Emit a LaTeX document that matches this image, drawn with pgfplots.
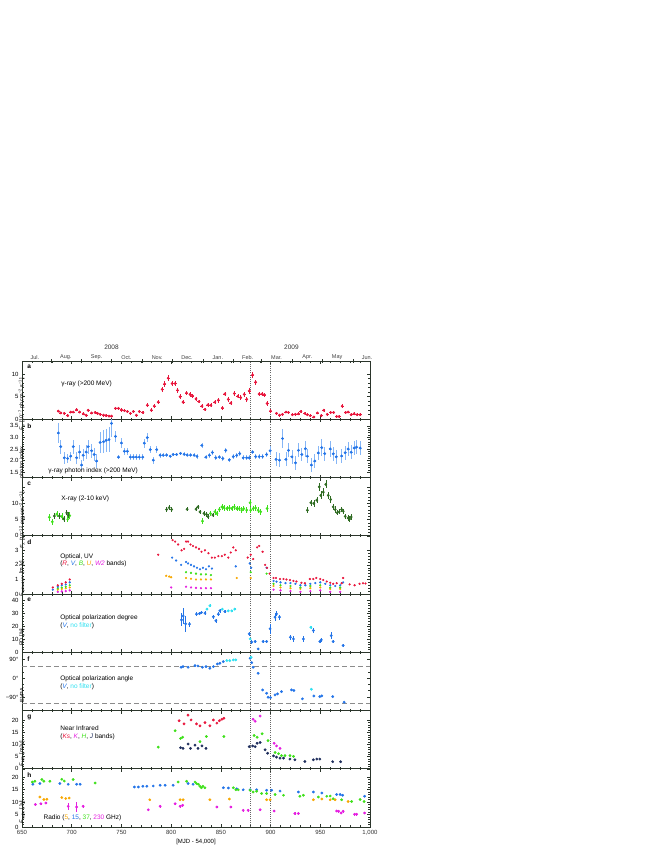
\documentclass[border=0pt]{standalone}
\usepackage{fontspec}
\setmainfont{Liberation Sans}
\usepackage{pgfplots}
\usepackage{pgfplotstable}
\pgfplotsset{compat=1.18}

\definecolor{cred}{HTML}{E8173D}
\definecolor{cblue}{HTML}{2374E8}
\definecolor{cblueerr}{HTML}{86B6F6}
\definecolor{clgreen}{HTML}{3EE01A}
\definecolor{cdgreen}{HTML}{2F6B22}
\definecolor{corange}{HTML}{F7A700}
\definecolor{cmag}{HTML}{E51FE0}
\definecolor{ccyan}{HTML}{2EE0F0}
\definecolor{cnavy}{HTML}{1E2D5C}
\definecolor{frame}{HTML}{2B352B}

\pgfplotsset{
  panel/.style={
    scale only axis, width=348pt, height=58.25pt,
    xmin=650, xmax=1000,
    xtick={650,700,...,1000}, minor x tick num=4, xticklabels={},
    extra x ticks={880,900}, extra x tick labels={},
    extra x tick style={grid=major, major tick length=0pt,
      major grid style={line width=0.55pt, black!60, dash pattern=on 0.6pt off 1.5pt}},
    tick align=inside, major tick length=3pt, minor tick length=1.6pt,
    axis line style={frame, line width=0.9pt},
    every tick/.style={frame, line width=0.5pt},
    tick label style={font=\fontsize{6}{6}\selectfont},
    font=\fontsize{6.5}{7.5}\selectfont,
    /pgf/number format/assume math mode=true,
    every axis y label/.style={at={(rel axis cs:0,0.5)}, rotate=90,
      anchor=center, xshift=-14pt, font=\fontsize{5.5}{6}\selectfont},
    error bars/error mark=none,
    error bars/error bar style={line width=0.5pt},
  },
  pts/.style={only marks, mark=*, mark size=1.2pt},
  opt/.style={only marks, mark=*, mark size=0.9pt},
}

% gamma-ray flux: x y ex ey
\pgfplotstableread{
x y ex ey
686.5 1.8 1.5 0.3
689 1.4 1.5 0.3
692.5 1.3 1.5 0.3
696 0.8 1.5 0.3
699 1.6 1.5 0.3
701.5 1.6 1.5 0.3
705 2.1 1.5 0.3
708 1.6 1.5 0.3
711.5 1.2 1.5 0.3
714.5 0.9 1.5 0.3
716.5 2.0 1.5 0.3
720 1.4 1.5 0.3
723.5 1.5 1.5 0.3
726 1.3 1.5 0.3
728.5 1.1 1.5 0.3
732 0.9 1.5 0.3
734.5 0.8 1.5 0.3
737.5 0.7 1.5 0.3
740 0.7 1.5 0.3
744 2.4 1.5 0.4
747 2.4 1.5 0.4
750 2.1 1.5 0.4
753 1.9 1.5 0.3
756 1.7 1.5 0.3
759 1.3 1.5 0.3
762 1.7 1.5 0.3
765 0.9 1.5 0.3
768 1.7 1.5 0.3
771.5 1.5 1.5 0.3
776 3.1 1.5 0.4
780 2.0 1.5 0.4
783 2.9 1.5 0.4
787 3.8 1.5 0.5
791 6.6 1.5 0.6
793.5 7.8 1.5 0.6
797 9.1 1.5 0.7
801 7.9 1.5 0.6
804 7.9 1.5 0.6
806.5 6.4 1.5 0.5
809 5.0 1.5 0.5
812 3.8 1.5 0.5
815.5 5.8 1.5 0.5
819 5.5 1.5 0.5
821.5 5.2 1.5 0.5
825 4.5 1.5 0.5
828 3.9 1.5 0.4
831 2.9 1.5 0.4
834 2.2 1.5 0.4
837 3.2 1.5 0.4
840 3.1 1.5 0.4
844 3.8 1.5 0.5
847.5 4.2 1.5 0.5
851.5 2.5 1.5 0.4
854 5.6 1.5 0.5
857.5 4.4 1.5 0.5
860 3.6 1.5 0.5
863.5 5.7 1.5 0.5
867 5.1 1.5 0.5
870 4.8 1.5 0.5
873.5 5.5 1.5 0.5
876 4.4 1.5 0.5
878.5 6.3 1.5 0.6
882 9.8 1.5 0.7
885 8.2 1.5 0.6
888.5 5.6 1.5 0.5
891.5 5.6 1.5 0.5
894 5.4 1.5 0.5
896.5 3.5 1.5 0.5
900 1.8 1.5 0.4
906 1.3 1.5 0.3
909 0.9 1.5 0.3
912 1.1 1.5 0.3
915.5 1.6 1.5 0.3
918 1.5 1.5 0.3
922 1.0 1.5 0.3
925 1.1 1.5 0.3
928 1.2 1.5 0.3
930.5 1.7 1.5 0.3
934.5 1.3 1.5 0.3
937 1.0 1.5 0.3
940 0.8 1.5 0.3
943.5 0.5 1.5 0.3
947 1.4 1.5 0.3
951 0.8 1.5 0.3
953.5 2.0 1.5 0.3
957 1.1 1.5 0.3
960.5 1.5 1.5 0.3
963.5 1.5 1.5 0.3
966.5 0.6 1.5 0.3
969 0.6 1.5 0.3
972 2.9 1.5 0.4
975.5 1.5 1.5 0.3
978 1.6 1.5 0.3
981 1.0 1.5 0.3
984 1.2 1.5 0.3
987 1.0 1.5 0.3
990 1.0 1.5 0.3
}\gamflux

% gamma-ray photon index
\pgfplotstableread{
x y ex ey
686.5 3.19 1.5 0.45
689 2.6 1.5 0.3
692.5 2.12 1.5 0.25
696 2.09 1.5 0.2
699 2.19 1.5 0.2
701.5 2.6 1.5 0.3
705 2.12 1.5 0.25
708 2.37 1.5 0.3
710 1.81 1.5 0.2
711.5 2.23 1.5 0.25
714.5 2.37 1.5 0.3
716.5 2.6 1.5 0.3
720 2.42 1.5 0.3
722.5 2.26 1.5 0.3
725 1.98 1.5 0.3
728.5 2.78 1.5 0.45
732 2.81 1.5 0.5
734.5 2.87 1.5 0.5
737.5 2.9 1.5 0.55
740 3.6 1.5 0.6
744 3.04 1.5 0.25
747 2.15 1.5 0.1
750 2.76 1.5 0.2
753 2.4 1.5 0.15
756 2.4 1.5 0.15
759 2.15 1.5 0.12
762 2.15 1.5 0.12
765 2.15 1.5 0.12
768 2.15 1.5 0.12
771.5 2.15 1.5 0.12
773 2.75 1.5 0.2
776 2.99 1.5 0.2
779 2.47 1.5 0.15
782 2.02 1.5 0.15
785.5 2.47 1.5 0.15
789 2.23 1.5 0.1
792 2.23 1.5 0.08
795.5 2.24 1.5 0.07
799 2.19 1.5 0.07
802 2.26 1.5 0.07
805.5 2.26 1.5 0.07
809.5 2.31 1.5 0.08
813 2.27 1.5 0.08
816 2.24 1.5 0.08
819.5 2.24 1.5 0.08
823 2.23 1.5 0.08
826 2.18 1.5 0.1
831 2.65 1.5 0.12
835 2.15 1.5 0.1
838.5 2.23 1.5 0.1
841.5 2.35 1.5 0.1
845 2.12 1.5 0.1
848.5 2.15 1.5 0.1
852 2.09 1.5 0.1
855 2.44 1.5 0.12
858.5 2.03 1.5 0.1
862.5 2.17 1.5 0.1
866 2.22 1.5 0.1
869 2.3 1.5 0.1
872.5 2.12 1.5 0.1
876 2.12 1.5 0.1
878.5 2.12 1.5 0.1
882 2.37 1.5 0.1
885 2.17 1.5 0.1
888.5 2.17 1.5 0.1
892 2.17 1.5 0.1
896 2.26 1.5 0.12
899.5 2.42 1.5 0.2
905.5 2.05 1.5 0.3
909 2.02 1.5 0.3
912 2.95 1.5 0.4
915.5 2.05 1.5 0.3
918 2.44 1.5 0.3
921.5 2.16 1.5 0.3
925 1.9 1.5 0.3
928 2.44 1.5 0.3
931.5 2.26 1.5 0.3
935 2.51 1.5 0.35
937 2.19 1.5 0.3
941 1.81 1.5 0.3
944.5 1.98 1.5 0.3
948 2.33 1.5 0.3
951.5 2.56 1.5 0.35
954.5 2.3 1.5 0.3
960 2.5 1.5 0.35
963 2.29 1.5 0.3
966 2.16 1.5 0.3
971.5 2.2 1.5 0.3
975 2.34 1.5 0.3
978 2.5 1.5 0.3
981 2.36 1.5 0.3
984 2.54 1.5 0.3
986.5 2.58 1.5 0.3
990 2.54 1.5 0.3
}\gamindex

% X-ray, light green
\pgfplotstableread{
x y ey
677.5 5.7 1.0
680.5 4.3 1.0
685 6.7 1.0
690 5.9 1.0
696 5.1 1.0
698 6.2 1.0
831.5 4.5 0.9
839.5 6.9 0.9
844 7.4 0.9
846 6.9 0.9
848.5 8.1 0.9
851 8.9 0.9
853 8.7 0.9
856 8.4 0.9
858.5 8.6 0.9
861 8.4 0.9
863.5 8.9 0.9
866 8.4 0.9
868.5 8.4 0.9
871 7.9 0.9
873 8.4 0.9
876 7.9 0.9
879.5 10.2 0.9
880 7.9 0.9
882.5 8.4 0.9
885 8.6 0.9
887.5 7.9 0.9
890 7.4 0.9
896.5 8.4 1.2
}\xlg
% X-ray, dark green
\pgfplotstableread{
x y ey
682.5 6.1 0.8
687.5 6.1 0.8
692 5.2 0.8
695 7.1 0.8
696.5 6.4 0.8
795.5 8.1 0.7
798 8.7 0.7
800.5 8.1 0.7
816 8.2 0.7
825 8.2 0.7
827 8.9 0.7
829 7.4 0.7
833 6.9 0.7
835.5 6.6 0.7
837 5.9 0.7
842 6.4 0.7
937 7.9 1.0
940.5 10.2 1.0
943.5 10.0 1.0
946.5 11.0 1.0
949 15.1 1.2
950.5 12.5 1.2
953 13.5 1.2
955.5 15.9 1.2
958 12.5 1.0
960.5 11.2 1.0
963 8.9 1.0
965 8.1 1.0
967 7.1 0.8
969 7.4 0.8
971.5 8.1 0.8
973 7.6 0.8
975 6.0 0.8
978 5.5 0.8
979.5 5.2 0.8
981 5.8 0.8
}\xdg

% optical/UV
\pgfplotstableread{
x y
681 0.45
686 0.6
690 0.7
694 0.8
698 1.0
787 2.7
801.5 3.7
804 3.6
807 3.4
810.5 3.0
813 3.1
815 3.6
817 3.6
819.5 3.4
822 3.3
825 3.2
828 3.1
830.5 2.9
834 3.0
837.5 2.8
841 2.5
844 2.5
847.5 2.6
851 2.6
854 2.7
857.5 2.5
860 2.85
862.5 3.2
865 3.0
877 2.5
880 2.7
882.5 2.4
886.5 3.2
888.5 3.3
892 2.9
894.5 2.0
896.5 1.8
899 1.4
903 1.1
905.5 1.1
909.5 1.03
913 1.03
916 1.0
919.5 0.96
923 0.9
926 0.86
931 0.77
934.5 0.74
939.5 1.03
943 1.03
946 1.1
950 1.03
953 0.96
956.5 0.86
960 0.77
963 0.7
966.5 0.74
971.5 0.74
973 1.1
979.5 0.66
984.5 0.6
989.5 0.7
993 0.74
995.5 0.72
}\optR
\pgfplotstableread{
x y
681 0.3
686 0.5
690 0.6
694 0.65
698 0.8
801 2.5
805 2.3
810 2.0
815 2.2
817 2.1
820 2.0
823 1.9
826 1.8
829 1.7
832 1.8
835 1.7
838 1.9
841 1.75
865 1.9
879 2.1
880.5 1.8
896 1.8
903 0.9
906 0.85
910 0.8
915 0.75
920 0.75
925 0.7
930 0.6
935 0.6
940 0.7
945 0.75
950 0.8
955 0.7
960 0.6
965 0.55
970 0.6
973 0.8
}\optV
\pgfplotstableread{
x y
686 0.4
690 0.45
694 0.5
698 0.6
815 1.5
820 1.45
825 1.4
830 1.35
835 1.35
840 1.3
880 1.5
896 1.4
903 0.7
910 0.6
920 0.55
930 0.45
940 0.55
950 0.6
960 0.45
970 0.45
}\optB
\pgfplotstableread{
x y
686 0.3
690 0.35
694 0.4
698 0.45
795 1.25
798 1.2
800 1.15
815 1.1
820 1.05
825 1.0
830 1.0
835 1.0
840 1.0
866 1.1
880 1.1
903 0.55
910 0.45
920 0.4
930 0.35
940 0.4
950 0.45
960 0.35
970 0.35
}\optU
\pgfplotstableread{
x y
686 0.15
690 0.18
694 0.2
698 0.25
800 0.45
815 0.5
820 0.45
825 0.42
830 0.4
835 0.4
840 0.4
903 0.3
910 0.25
920 0.2
930 0.15
940 0.2
950 0.25
960 0.15
970 0.15
}\optW

% polarization degree
\pgfplotstableread{
x y ey
810.5 25 5
812 28 6
814.5 22 6
818.5 21.7 2
825.5 29.4 1.5
828.5 29.9 1.5
830.5 30.7 1.5
834 30.2 1.5
842.5 27.4 1.5
845 24.3 1.5
847.5 29.4 1.5
849 32 1.5
854 31.5 1.5
878.5 14.2 1.5
881 7.8 1.5
884.5 8.3 1.5
887.5 2.6 1
892.5 8.3 1.5
896 8.3 1.5
899.5 18.1 4
904.5 27.1 3
906 29.7 2
909 27.1 2
920 11.6 2
923 10.3 2
933 10.3 2.5
943 16.8 2
949.5 8.3 1.5
951 9.6 1.5
961 12.9 3
963 8.3 1.5
973 5.2 1
}\pdV
\pgfplotstableread{
x y ey
836 33.3 1
839 35.9 1
851.5 33.3 1
857.5 32 1
861 32 1
864 33.3 1
879.5 10.3 1
940.5 19.3 1
}\pdC

% polarization angle
\pgfplotstableread{
x y
810 53
812 56
817 53
824 61
827 59
831.5 53
835 56
839 48
842.5 56
846.5 69
849 72
852.5 80
879.5 96
881 75
882.5 53
887.5 24
892 -56
896 -72
897.5 -91
900 -93
904.5 -80
907 -75
911 -64
921 -56
923.5 -59
932 -99
943.5 -85
949.5 -88
951.5 -85
962.5 -88
974 -115
}\paV
\pgfplotstableread{
x y
856 85
859 85
862.5 88
865 88
880.5 101
941 -53
}\paC

% near infrared
\pgfplotstableread{
x y
808 19.8
813 18.5
817 22.1
820 20.1
825.5 18.5
829 17.7
834 19.0
839 17.7
842.5 20.1
846 18.8
848.5 19.8
851 20.4
853 20.8
}\nirKs
\pgfplotstableread{
x y
882.5 20.4
884.5 19.6
889.5 21.7
903.5 10.5
906 9.4
909.5 8.4
}\nirK
\pgfplotstableread{
x y
787 8.9
804 15.7
809.5 12.5
811.5 13.0
829 11.2
835.5 13.3
853 13.3
883.5 13.7
886.5 13.0
891.5 14.4
897.5 11.6
904.5 6.7
908 6.2
911 5.4
914.5 5.4
919.5 5.4
923 5.1
}\nirH
\pgfplotstableread{
x y
809.5 8.7
812 8.4
817 10.2
819.5 8.4
824 9.7
827 8.4
831 9.4
835 8.4
878.5 9.1
882 9.4
884.5 9.1
886.5 10.5
889.5 10.8
894.5 7.8
897 6.4
903 5.3
906 4.8
909.5 4.4
913 4.4
919.5 4.0
924.5 3.7
934.5 3.0
943 3.7
946.5 4.0
949.5 4.0
962.5 2.9
970.5 2.9
}\nirJ

% radio
\pgfplotstableread{
x y
668 12.0
672 11.0
675 11.1
690 11.8
694 11.4
697.5 11.6
778.5 10.9
809 10.9
812 10.9
839 10.9
858.5 11.2
896 10.9
899.5 10.9
943 10.9
951.5 11.2
960 10.9
965 10.9
978 10.2
}\radA
\pgfplotstableread{
x y
661 17.1
668 17.4
688 17.4
696.5 17.1
705 17.1
708.5 17.1
763 16.0
767 16.0
771.5 16.3
775.5 16.3
782 16.4
789 16.7
794 16.7
802 16.7
817 17.4
822 17.1
852.5 15.7
857.5 15.6
866 15.3
872.5 14.9
879.5 14.9
886 14.9
896 14.7
901 14.7
909.5 14.4
928 14.0
943 14.0
951.5 13.6
966.5 13.0
970 13.0
972.5 12.7
994.5 12.3
}\radB
\pgfplotstableread{
x y
660.5 18.0
663 18.3
670 19.0
672 18.3
678 18.3
690 19.1
692.5 18.4
701.5 19.0
723.5 17.6
807 18.0
815.5 18.3
824 18.0
825.5 17.4
827.5 17.1
829 16.3
830.5 15.7
832 16.3
834 15.7
862.5 15.7
865 14.9
867.5 14.9
879.5 14.7
882.5 14.0
886 14.3
891 13.4
896 13.4
904.5 13.0
913 12.7
929.5 12.3
933 12.7
948 12.0
956.5 12.3
960 12.4
963 11.3
971.5 10.9
981.5 10.2
990 11.0
994 10.2
}\radC
\pgfplotstableread{
x y ey
663.5 9.0 0.5
669 9.3 0.5
674 9.6 0.5
696.5 8.3 1.5
705 8.0 2.0
711.5 8.3 0.5
777 6.9 0.5
789 8.3 0.5
804 9.3 0.5
809 8.3 0.5
811.5 8.7 0.5
846 8.0 0.5
860 8.0 0.5
872.5 6.7 0.5
877.5 6.7 0.5
889.5 6.9 0.5
903.5 6.4 0.5
924.5 5.4 0.5
928 5.4 0.5
966.5 6.4 0.5
968.5 6.3 0.5
971 5.6 0.5
973 6.3 0.5
984.5 5.1 0.5
986.5 5.1 0.5
994.5 5.6 0.5
}\radD

\begin{document}
\begin{tikzpicture}
\path[use as bounding box] (0pt,0pt) rectangle (654pt,-846pt);

% month axis on top
\begin{axis}[scale only axis, width=348pt, height=58.25pt,
  at={(22pt,-361pt)}, anchor=north west, clip=false,
  xmin=650, xmax=1000, ymin=0, ymax=1,
  axis x line*=top, axis y line=none,
  axis line style={frame, line width=0.9pt},
  xtick={679,710,740,771,801,832,863,891,922,952,983}, xticklabels={},
  tick align=center, major tick length=3.5pt,
  every tick/.style={frame, line width=0.6pt},
  extra x ticks={663,694,725,755,786,816,847,877,906,937,967,997},
  extra x tick labels={Jul.,Aug.,Sep.,Oct.,Nov.,Dec.,Jan.,Feb.,Mar.,Apr.,May,Jun.},
  extra x tick style={major tick length=0pt},
  tick label style={font=\fontsize{5.5}{6}\selectfont, text=black!75, inner sep=1pt},
]
\node[font=\fontsize{6.5}{7}\selectfont, anchor=south, text=black!80]
  at ({axis cs:740,0}|-{rel axis cs:0,1}) [yshift=7.5pt] {2008};
\node[font=\fontsize{6.5}{7}\selectfont, anchor=south, text=black!80]
  at ({axis cs:921,0}|-{rel axis cs:0,1}) [yshift=7.5pt] {2009};
\end{axis}

% a: gamma-ray flux
\begin{axis}[panel, at={(22pt,-361pt)}, anchor=north west,
  ymin=0, ymax=12.9, ytick={0,5,10}, minor y tick num=4,
  ylabel={{\itshape F}\textsubscript{γ} [10\textsuperscript{−7} ph cm\textsuperscript{−2} s\textsuperscript{−1}]}]
\addplot[pts, color=cred,
  error bars/.cd, x dir=both, x explicit, y dir=both, y explicit]
  table[x=x, y=y, x error=ex, y error=ey] {\gamflux};
\node[anchor=north west, font=\bfseries\fontsize{6.5}{7}\selectfont] at (rel axis cs:0.005,0.99) {a};
\node[anchor=west] at (rel axis cs:0.103,0.6) {γ-ray (>200 MeV)};
\end{axis}

% b: photon index
\begin{axis}[panel, at={(22pt,-419.25pt)}, anchor=north west,
  ymin=1.27, ymax=3.78, ytick={1.5,2,2.5,3,3.5},
  yticklabels={1.5,2.0,2.5,3.0,3.5}, minor y tick num=4,
  ylabel={photon index}]
\addplot[pts, color=cblue,
  error bars/.cd, x dir=both, x explicit, y dir=both, y explicit,
  error bar style={cblueerr, line width=0.8pt}]
  table[x=x, y=y, x error=ex, y error=ey] {\gamindex};
\node[anchor=north west, font=\bfseries\fontsize{6.5}{7}\selectfont] at (rel axis cs:0.005,0.99) {b};
\node[anchor=west] at (rel axis cs:0.066,0.11) {γ-ray photon index (>200 MeV)};
\end{axis}

% c: X-ray
\begin{axis}[panel, at={(22pt,-477.5pt)}, anchor=north west,
  ymin=0, ymax=18, ytick={0,5,10,15}, yticklabels={0,5,10,}, minor y tick num=4,
  ylabel={{\itshape F}\textsubscript{X} [10\textsuperscript{−12} erg cm\textsuperscript{−2} s\textsuperscript{−1}]}]
\addplot[pts, color=clgreen,
  error bars/.cd, y dir=both, y explicit]
  table[x=x, y=y, y error=ey] {\xlg};
\addplot[pts, color=cdgreen,
  error bars/.cd, y dir=both, y explicit]
  table[x=x, y=y, y error=ey] {\xdg};
\node[anchor=north west, font=\bfseries\fontsize{6.5}{7}\selectfont] at (rel axis cs:0.005,0.99) {c};
\node[anchor=west] at (rel axis cs:0.103,0.63) {X-ray (2-10 keV)};
\end{axis}

% d: optical / UV
\begin{axis}[panel, at={(22pt,-535.75pt)}, anchor=north west,
  ymin=0, ymax=4, ytick={0,1,2,3}, minor y tick num=4,
  ylabel={{\itshape F}\textsubscript{optical,UV} [mJy]}]
\addplot[opt, color=cmag] table[x=x,y=y] {\optW};
\addplot[opt, color=corange] table[x=x,y=y] {\optU};
\addplot[opt, color=clgreen] table[x=x,y=y] {\optB};
\addplot[opt, color=cblue] table[x=x,y=y] {\optV};
\addplot[opt, color=cred] table[x=x,y=y] {\optR};
\node[anchor=north west, font=\bfseries\fontsize{6.5}{7}\selectfont] at (rel axis cs:0.005,0.99) {d};
\node[anchor=west] at (rel axis cs:0.1,0.635) {Optical, UV};
\node[anchor=west] at (rel axis cs:0.1,0.515) {(\textcolor{cred}{\itshape R}, \textcolor{cblue}{\itshape V}, \textcolor{clgreen}{\itshape B}, \textcolor{corange}{\itshape U}, \textcolor{cmag}{\itshape W2} bands)};
\end{axis}

% e: polarization degree
\begin{axis}[panel, at={(22pt,-594pt)}, anchor=north west,
  ymin=0, ymax=45, ytick={0,10,20,30,40}, minor y tick num=4,
  ylabel={PD [\%]}]
\addplot[pts, color=cblue,
  error bars/.cd, y dir=both, y explicit]
  table[x=x, y=y, y error=ey] {\pdV};
\addplot[pts, color=ccyan,
  error bars/.cd, y dir=both, y explicit]
  table[x=x, y=y, y error=ey] {\pdC};
\node[anchor=north west, font=\bfseries\fontsize{6.5}{7}\selectfont] at (rel axis cs:0.005,0.99) {e};
\node[anchor=west] at (rel axis cs:0.1,0.588) {Optical polarization degree};
\node[anchor=west] at (rel axis cs:0.1,0.45) {(\textcolor{cblue}{\itshape V}, \textcolor{ccyan}{no filter})};
\end{axis}

% f: polarization angle
\begin{axis}[panel, at={(22pt,-652.25pt)}, anchor=north west,
  ymin=-155, ymax=125, ytick={-90,0,90}, yticklabels={−90°,0°,90°},
  minor y tick num=2, ylabel={EVPA}]
\draw[dash pattern=on 5pt off 3pt, line width=1pt, black!45]
  (axis cs:650,58) -- (axis cs:1000,58);
\draw[dash pattern=on 5pt off 3pt, line width=1pt, black!45]
  (axis cs:650,-122) -- (axis cs:1000,-122);
\addplot[pts, color=cblue] table[x=x,y=y] {\paV};
\addplot[pts, color=ccyan] table[x=x,y=y] {\paC};
\node[anchor=north west, font=\bfseries\fontsize{6.5}{7}\selectfont] at (rel axis cs:0.005,0.99) {f};
\node[anchor=west] at (rel axis cs:0.1,0.54) {Optical polarization angle};
\node[anchor=west] at (rel axis cs:0.1,0.40) {(\textcolor{cblue}{\itshape V}, \textcolor{ccyan}{no filter})};
\end{axis}

% g: near infrared
\begin{axis}[panel, at={(22pt,-710.5pt)}, anchor=north west,
  ymin=0, ymax=24, ytick={0,5,10,15,20}, minor y tick num=4,
  ylabel={{\itshape F}\textsubscript{NIR} [mJy]}]
\addplot[pts, color=cnavy] table[x=x,y=y] {\nirJ};
\addplot[pts, color=clgreen] table[x=x,y=y] {\nirH};
\addplot[pts, color=cmag] table[x=x,y=y] {\nirK};
\addplot[pts, color=cred] table[x=x,y=y] {\nirKs};
\node[anchor=north west, font=\bfseries\fontsize{6.5}{7}\selectfont] at (rel axis cs:0.005,0.99) {g};
\node[anchor=west] at (rel axis cs:0.1,0.70) {Near Infrared};
\node[anchor=west] at (rel axis cs:0.1,0.545) {(\textcolor{cred}{\itshape Ks}, \textcolor{cmag}{\itshape K}, \textcolor{clgreen}{\itshape H}, \textcolor{cnavy}{\itshape J} bands)};
\end{axis}

% h: radio
\begin{axis}[panel, at={(22pt,-768.75pt)}, anchor=north west,
  ymin=0, ymax=23.3, ytick={0,5,10,15,20}, minor y tick num=4,
  xticklabels={650,700,750,800,850,900,950,{1,000}},
  xticklabel style={text=black!80},
  xlabel={[MJD - 54,000]},
  xlabel style={font=\fontsize{6}{6}\selectfont, yshift=3pt},
  ylabel={{\itshape F}\textsubscript{radio} [Jy]}]
\addplot[pts, color=corange] table[x=x,y=y] {\radA};
\addplot[pts, color=cblue] table[x=x,y=y] {\radB};
\addplot[pts, color=clgreen] table[x=x,y=y] {\radC};
\addplot[pts, color=cmag,
  error bars/.cd, y dir=both, y explicit]
  table[x=x, y=y, y error=ey] {\radD};
\node[anchor=north west, font=\bfseries\fontsize{6.5}{7}\selectfont] at (rel axis cs:0.005,0.99) {h};
\node[anchor=west] at (rel axis cs:0.052,0.155) {Radio (\textcolor{corange}{5}, \textcolor{cblue}{15}, \textcolor{clgreen}{37}, \textcolor{cmag}{230} GHz)};
\end{axis}
\end{tikzpicture}
\end{document}
